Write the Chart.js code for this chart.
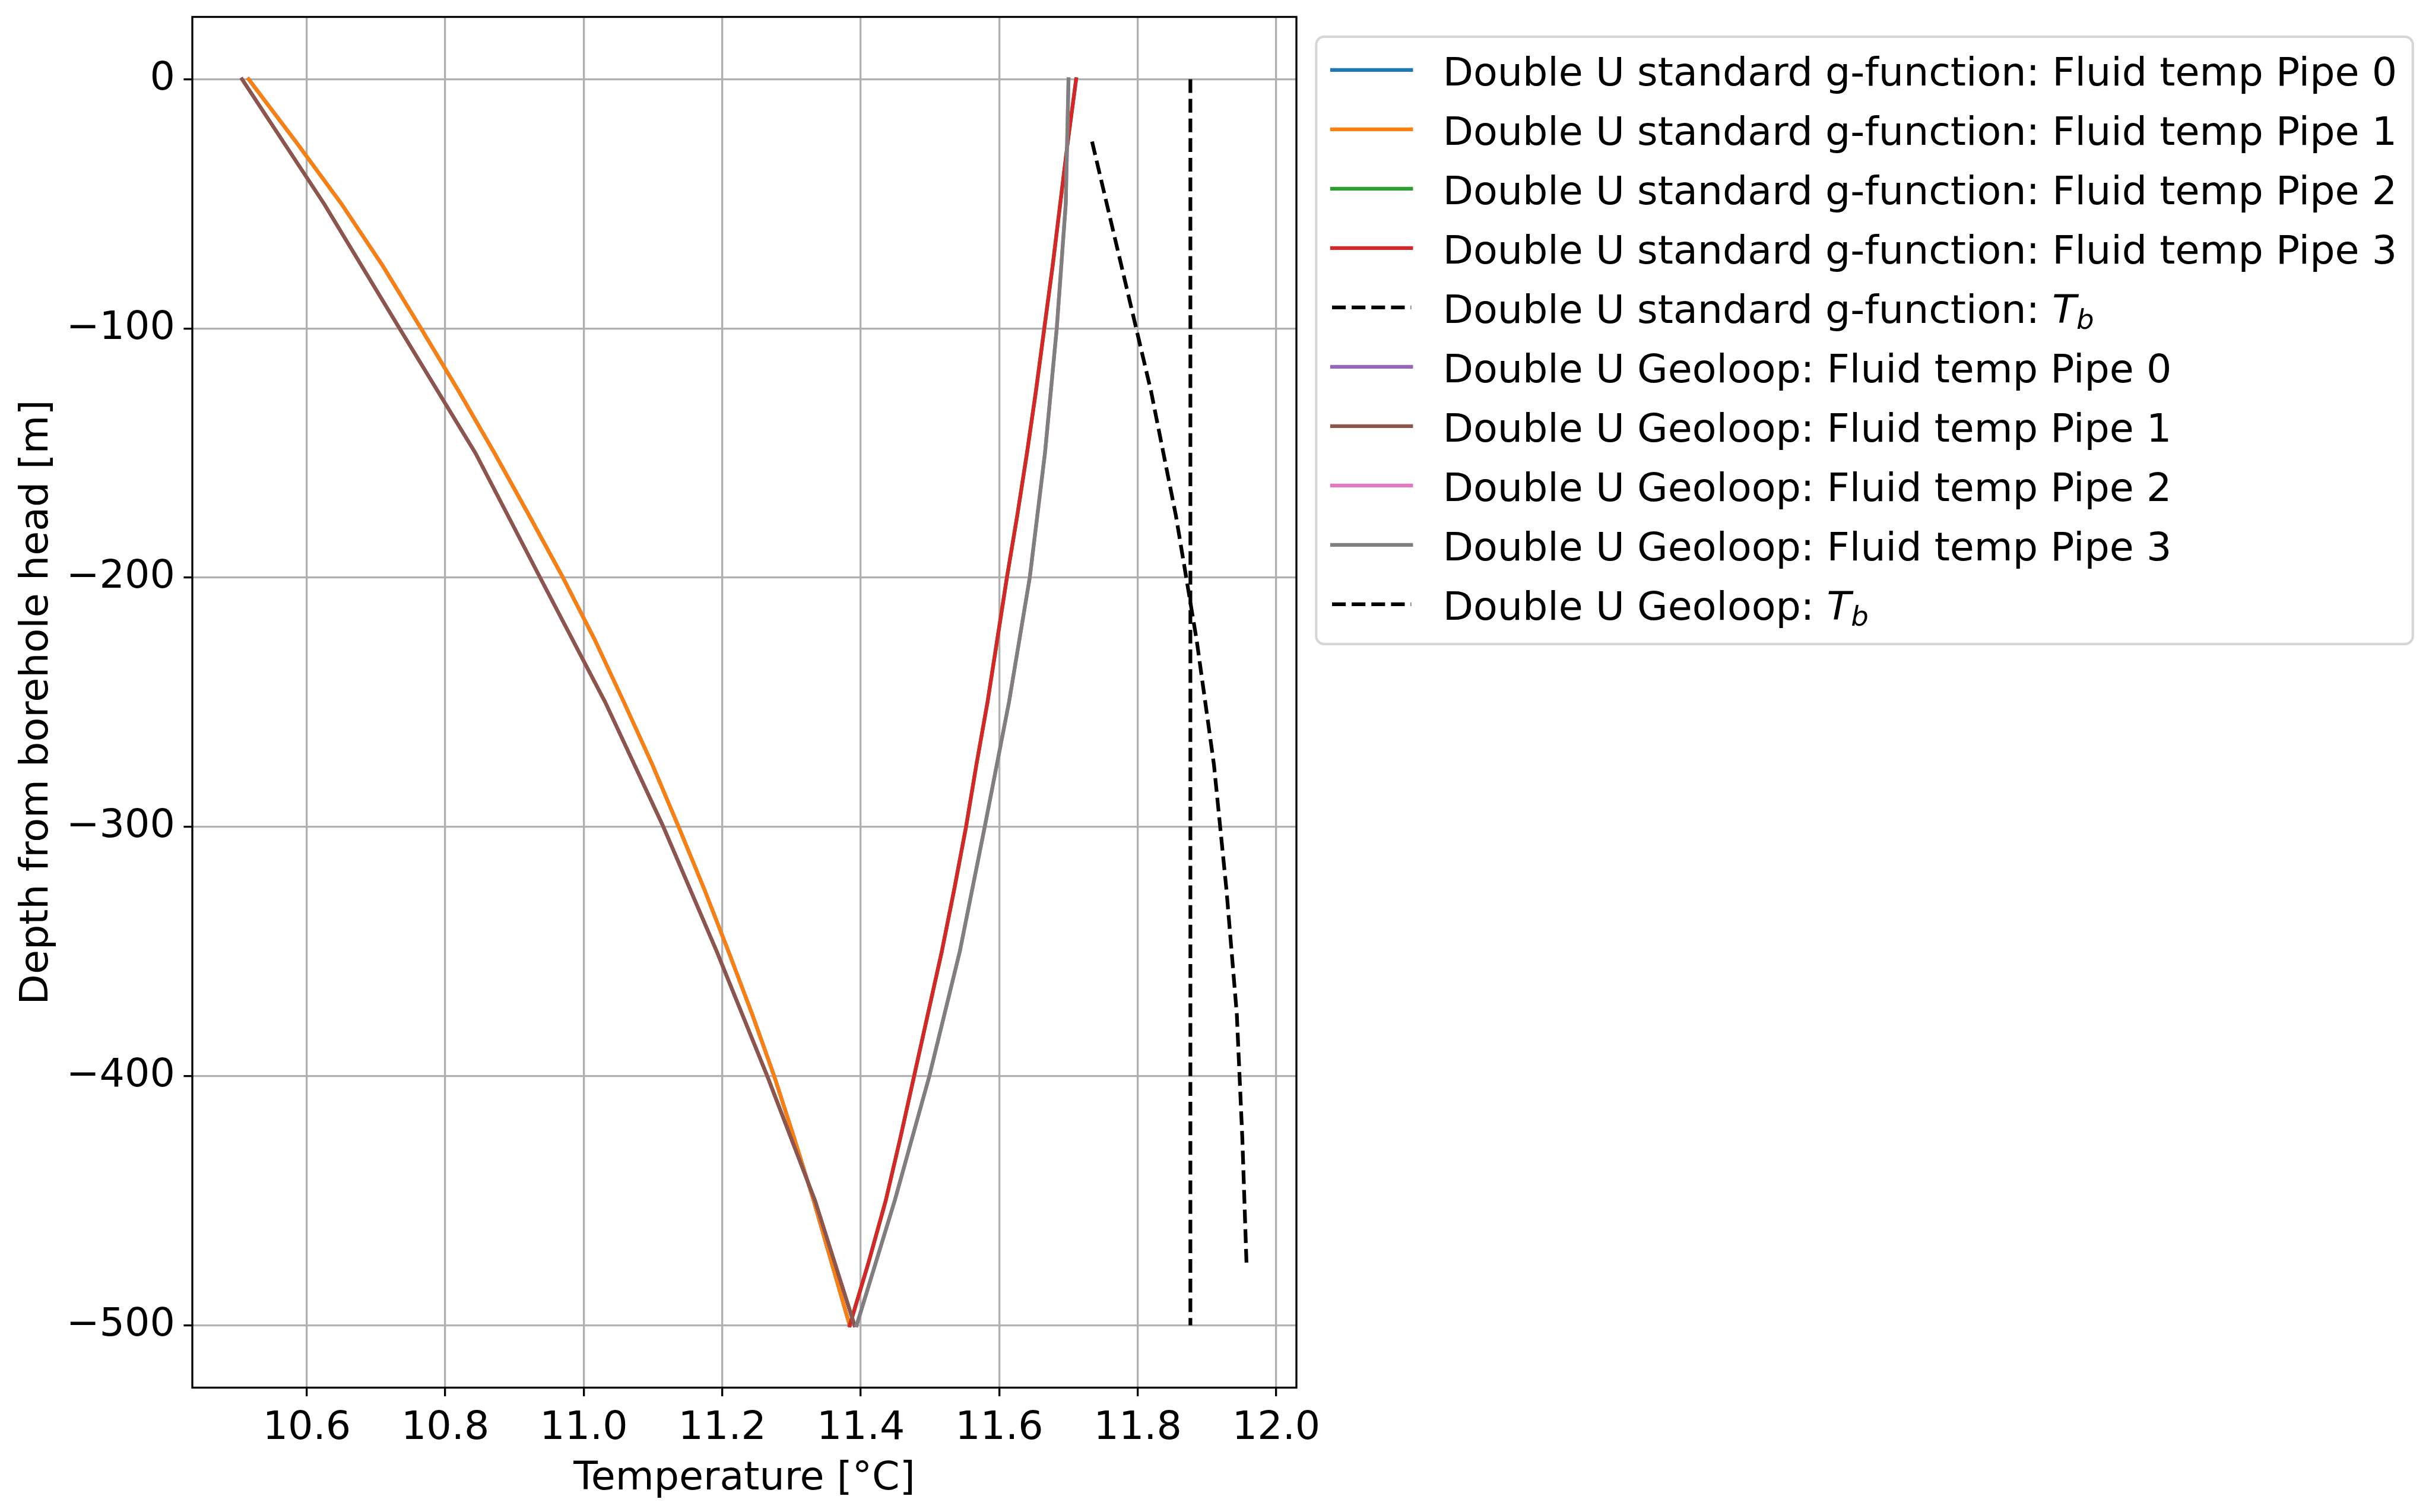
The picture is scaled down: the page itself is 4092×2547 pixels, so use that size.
<!DOCTYPE html>
<html lang="en">
  <head>
    <meta charset="UTF-8" />
    <title>Double U borehole: fluid temperature profile</title>
    <script src="https://cdn.jsdelivr.net/npm/chart.js"></script>
    <style>
      body {
        margin: 0;
        background: #ffffff;
      }
    </style>
  </head>
  <body>
    <canvas id="profileChart" width="4092" height="2547"></canvas>

    <script>
      // depths [m]
      const stdDepth = [
        0, -25, -50, -75, -100, -125, -150, -175, -200, -225, -250, -275,
        -300, -325, -350, -375, -400, -425, -450, -475, -500,
      ];
      const geoDepth = [0, -50, -100, -150, -200, -250, -300, -350, -400, -450, -500];
      const geoTbDepth = [-25, -75, -125, -175, -225, -275, -325, -375, -425, -475];
      const stdTbDepth = [0, -500];

      // temperatures [°C], standard g-function (pipes 0/1 go down, pipes 2/3 come up)
      const stdDown = [
        10.516, 10.584, 10.65, 10.71, 10.765, 10.819, 10.871, 10.921, 10.97,
        11.016, 11.058, 11.099, 11.137, 11.174, 11.209, 11.243, 11.275, 11.304,
        11.332, 11.358, 11.384,
      ];
      const stdUp = [
        11.711, 11.699, 11.688, 11.677, 11.665, 11.653, 11.64, 11.626, 11.611,
        11.597, 11.583, 11.567, 11.552, 11.535, 11.517, 11.497, 11.477, 11.457,
        11.436, 11.411, 11.384,
      ];
      const stdTb = [11.876, 11.876];

      // temperatures [°C], Geoloop
      const geoDown = [
        10.5065, 10.625, 10.734, 10.8435, 10.937, 11.031, 11.115, 11.192, 11.265,
        11.334, 11.391,
      ];
      const geoUp = [
        11.7, 11.696, 11.683, 11.666, 11.644, 11.614, 11.579, 11.543, 11.499,
        11.449, 11.394,
      ];
      const geoTb = [
        11.734, 11.7765, 11.819, 11.855, 11.885, 11.91, 11.928, 11.943, 11.951,
        11.957,
      ];

      const xTicks = [10.6, 10.8, 11.0, 11.2, 11.4, 11.6, 11.8, 12.0];
      const yTicks = [0, -100, -200, -300, -400, -500];

      const FONT = "DejaVu Sans";
      const EM = 66.67; // 16 pt at 300 dpi
      const LW = 6.25; // 1.5 pt
      const THIN = 3.33; // 0.8 pt

      function pts(temps, depths) {
        return temps.map((t, i) => ({ x: t, y: depths[i] }));
      }

      const series = [
        ["Double U standard g-function: Fluid temp Pipe 0", stdDown, stdDepth, "#1f77b4", false],
        ["Double U standard g-function: Fluid temp Pipe 1", stdDown, stdDepth, "#ff7f0e", false],
        ["Double U standard g-function: Fluid temp Pipe 2", stdUp, stdDepth, "#2ca02c", false],
        ["Double U standard g-function: Fluid temp Pipe 3", stdUp, stdDepth, "#d62728", false],
        ["Double U standard g-function: T_b", stdTb, stdTbDepth, "#000000", true],
        ["Double U Geoloop: Fluid temp Pipe 0", geoDown, geoDepth, "#9467bd", false],
        ["Double U Geoloop: Fluid temp Pipe 1", geoDown, geoDepth, "#8c564b", false],
        ["Double U Geoloop: Fluid temp Pipe 2", geoUp, geoDepth, "#e377c2", false],
        ["Double U Geoloop: Fluid temp Pipe 3", geoUp, geoDepth, "#7f7f7f", false],
        ["Double U Geoloop: T_b", geoTb, geoTbDepth, "#000000", true],
      ];

      const datasets = series.map(([label, temps, depths, color, dashed], i) => ({
        label: label,
        data: pts(temps, depths),
        showLine: true,
        borderColor: color,
        backgroundColor: color,
        borderWidth: LW,
        borderDash: dashed ? [3.7 * LW, 1.6 * LW] : [],
        borderCapStyle: dashed ? "butt" : "square",
        borderJoinStyle: "round",
        pointRadius: 0,
        fill: false,
        order: series.length - i, // later series on top, like matplotlib
      }));

      // black frame round the plot area (spines)
      const framePlugin = {
        id: "frame",
        afterDatasetsDraw(chart) {
          const { ctx, chartArea: a } = chart;
          ctx.save();
          ctx.strokeStyle = "#000000";
          ctx.lineWidth = THIN;
          ctx.strokeRect(a.left, a.top, a.right - a.left, a.bottom - a.top);
          ctx.restore();
        },
      };

      // matplotlib style legend outside the axes, upper left of the free space
      const legendPlugin = {
        id: "boxLegend",
        afterDraw(chart) {
          const { ctx, chartArea: a } = chart;
          const sets = chart.data.datasets;
          const pad = 0.4 * EM;
          const handleLen = 2.0 * EM;
          const textPad = 0.8 * EM;
          const pitch = 1.5 * EM;

          ctx.save();
          ctx.font = `${EM}px "${FONT}"`;
          let maxW = 0;
          sets.forEach((ds) => {
            maxW = Math.max(maxW, ctx.measureText(ds.label.replace("T_b", "Tb")).width);
          });

          const x0 = a.right + 0.5 * EM;
          const y0 = a.top + 0.5 * EM;
          const w = 2 * pad + handleLen + textPad + maxW;
          const h = 2 * pad + sets.length * pitch - 0.5 * EM + 3;
          const r = 0.2 * EM;

          ctx.beginPath();
          ctx.moveTo(x0 + r, y0);
          ctx.arcTo(x0 + w, y0, x0 + w, y0 + h, r);
          ctx.arcTo(x0 + w, y0 + h, x0, y0 + h, r);
          ctx.arcTo(x0, y0 + h, x0, y0, r);
          ctx.arcTo(x0, y0, x0 + w, y0, r);
          ctx.closePath();
          ctx.fillStyle = "rgba(255,255,255,0.8)";
          ctx.fill();
          ctx.strokeStyle = "rgba(204,204,204,0.8)";
          ctx.lineWidth = 4.17;
          ctx.stroke();

          sets.forEach((ds, i) => {
            const cy = y0 + 0.84 * EM + i * pitch;
            const hx = x0 + pad;
            ctx.beginPath();
            ctx.setLineDash(ds.borderDash);
            ctx.lineCap = ds.borderDash.length ? "butt" : "square";
            ctx.strokeStyle = ds.borderColor;
            ctx.lineWidth = LW;
            ctx.moveTo(hx, cy);
            ctx.lineTo(hx + handleLen, cy);
            ctx.stroke();
            ctx.setLineDash([]);

            let tx = hx + handleLen + textPad;
            const base = cy + 0.39 * EM;
            ctx.fillStyle = "#000000";
            ctx.textBaseline = "alphabetic";
            ctx.textAlign = "left";
            if (ds.label.endsWith("T_b")) {
              const head = ds.label.slice(0, -3);
              ctx.font = `${EM}px "${FONT}"`;
              ctx.fillText(head, tx, base);
              tx += ctx.measureText(head).width;
              ctx.font = `italic ${EM}px "${FONT}"`;
              ctx.fillText("T", tx, base);
              tx += ctx.measureText("T").width;
              ctx.font = `italic ${0.7 * EM}px "${FONT}"`;
              ctx.fillText("b", tx, base + 0.15 * EM);
            } else {
              ctx.font = `${EM}px "${FONT}"`;
              ctx.fillText(ds.label, tx, base);
            }
          });
          ctx.restore();
        },
      };

      const minus = (v) => (v < 0 ? "\u2212" + Math.abs(v) : String(v));

      new Chart(document.getElementById("profileChart"), {
        type: "scatter",
        data: { datasets: datasets },
        options: {
          responsive: false,
          devicePixelRatio: 1,
          animation: false,
          events: [],
          layout: { padding: { left: 0, top: 28.5, right: 1908, bottom: 0 } },
          scales: {
            x: {
              type: "linear",
              position: "bottom",
              min: 10.4347,
              max: 12.0291,
              afterBuildTicks: (axis) => {
                axis.ticks = xTicks.map((v) => ({ value: v }));
              },
              afterFit: (axis) => {
                axis.height = 209.5;
                axis.paddingLeft = 0;
                axis.paddingRight = 0;
              },
              ticks: {
                autoSkip: false,
                maxRotation: 0,
                padding: 15,
                color: "#000000",
                font: { family: FONT, size: EM, lineHeight: 1.2 },
                callback: (v) => Number(v).toFixed(1),
              },
              grid: {
                color: "#b0b0b0",
                lineWidth: THIN,
                drawTicks: true,
                tickLength: 14.6,
                tickColor: "#000000",
                tickWidth: THIN,
              },
              border: { display: false },
              title: {
                display: true,
                text: "Temperature [°C]",
                color: "#000000",
                font: { family: FONT, size: EM, lineHeight: 1.2 },
                padding: { top: 0, bottom: 15 },
              },
            },
            y: {
              type: "linear",
              position: "left",
              min: -525,
              max: 25,
              afterBuildTicks: (axis) => {
                axis.ticks = yTicks.map((v) => ({ value: v }));
              },
              afterFit: (axis) => {
                axis.width = 324;
                axis.paddingTop = 0;
                axis.paddingBottom = 0;
              },
              ticks: {
                autoSkip: false,
                padding: 14.6,
                color: "#000000",
                font: { family: FONT, size: EM, lineHeight: 1.2 },
                callback: (v) => minus(v),
              },
              grid: {
                color: "#b0b0b0",
                lineWidth: THIN,
                drawTicks: true,
                tickLength: 14.6,
                tickColor: "#000000",
                tickWidth: THIN,
              },
              border: { display: false },
              title: {
                display: true,
                text: "Depth from borehole head [m]",
                color: "#000000",
                font: { family: FONT, size: EM, lineHeight: 1.2 },
                padding: { top: 23, bottom: 0 },
              },
            },
          },
          plugins: {
            legend: { display: false },
            tooltip: { enabled: false },
          },
        },
        plugins: [framePlugin, legendPlugin],
      });
    </script>
  </body>
</html>
